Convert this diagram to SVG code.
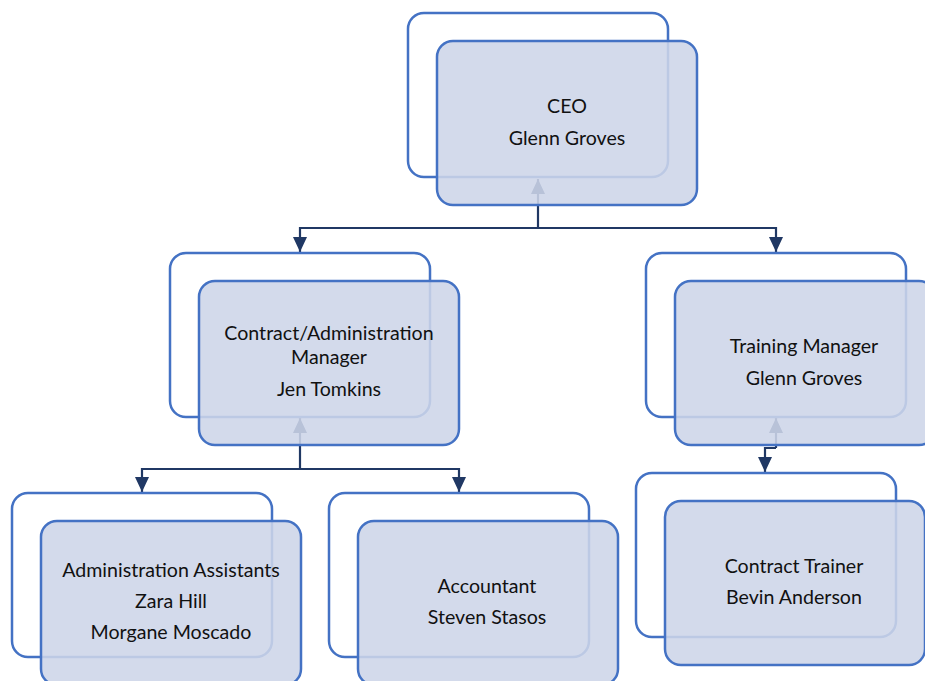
<svg xmlns="http://www.w3.org/2000/svg" width="925" height="681" viewBox="0 0 925 681">
<style>
.back{fill:#ffffff;stroke:#4472C4;stroke-width:2.5}
.front{fill:#CDD5E8;fill-opacity:0.88;stroke:#4472C4;stroke-width:2.5}
.conn{fill:none;stroke:#203864;stroke-width:2.2}
text{font-family:Lato,"Open Sans","Liberation Sans",sans-serif;font-size:19.6px;fill:#111111;text-anchor:middle}
</style>
<defs>
<marker id="ah" markerUnits="userSpaceOnUse" markerWidth="16" markerHeight="16" viewBox="0 0 16 14" refX="15" refY="7" orient="auto">
<path d="M0,0 L15,7 L0,14 Z" fill="#203864"/>
</marker>
</defs>
<rect width="925" height="681" fill="#ffffff"/>
<g id="connectors">
<path class="conn" d="M538,228 V179" marker-end="url(#ah)"/>
<path class="conn" d="M538,228 H300 V252" marker-end="url(#ah)"/>
<path class="conn" d="M538,228 H776 V252" marker-end="url(#ah)"/>
<path class="conn" d="M300,469 V418" marker-end="url(#ah)"/>
<path class="conn" d="M300,469 H142 V492" marker-end="url(#ah)"/>
<path class="conn" d="M300,469 H459 V492" marker-end="url(#ah)"/>
<path class="conn" d="M776,448 V418" marker-end="url(#ah)"/>
<path class="conn" d="M776,448 H765 V472" marker-end="url(#ah)"/>
</g>
<g id="node-ceo">
<rect class="back" x="408" y="13" width="260" height="164" rx="16"/>
<rect class="front" x="437" y="41" width="260" height="164" rx="16"/>
<text x="567" y="113">CEO</text>
<text x="567" y="145">Glenn Groves</text>
</g>
<g id="node-contract-admin">
<rect class="back" x="170" y="253" width="260" height="164" rx="16"/>
<rect class="front" x="199" y="281" width="260" height="164" rx="16"/>
<text x="329" y="340">Contract/Administration</text>
<text x="329" y="364">Manager</text>
<text x="329" y="396">Jen Tomkins</text>
</g>
<g id="node-training">
<rect class="back" x="646" y="253" width="260" height="164" rx="16"/>
<rect class="front" x="675" y="281" width="260" height="164" rx="16"/>
<text x="804" y="353">Training Manager</text>
<text x="804" y="385">Glenn Groves</text>
</g>
<g id="node-admin-assistants">
<rect class="back" x="12" y="493" width="260" height="164" rx="16"/>
<rect class="front" x="41" y="521" width="260" height="164" rx="16"/>
<text x="171" y="577">Administration Assistants</text>
<text x="171" y="608">Zara Hill</text>
<text x="171" y="639">Morgane Moscado</text>
</g>
<g id="node-accountant">
<rect class="back" x="329" y="493" width="260" height="164" rx="16"/>
<rect class="front" x="358" y="521" width="260" height="164" rx="16"/>
<text x="487" y="593">Accountant</text>
<text x="487" y="624">Steven Stasos</text>
</g>
<g id="node-contract-trainer">
<rect class="back" x="636" y="473" width="260" height="164" rx="16"/>
<rect class="front" x="665" y="501" width="260" height="164" rx="16"/>
<text x="794" y="573">Contract Trainer</text>
<text x="794" y="604">Bevin Anderson</text>
</g>
</svg>
